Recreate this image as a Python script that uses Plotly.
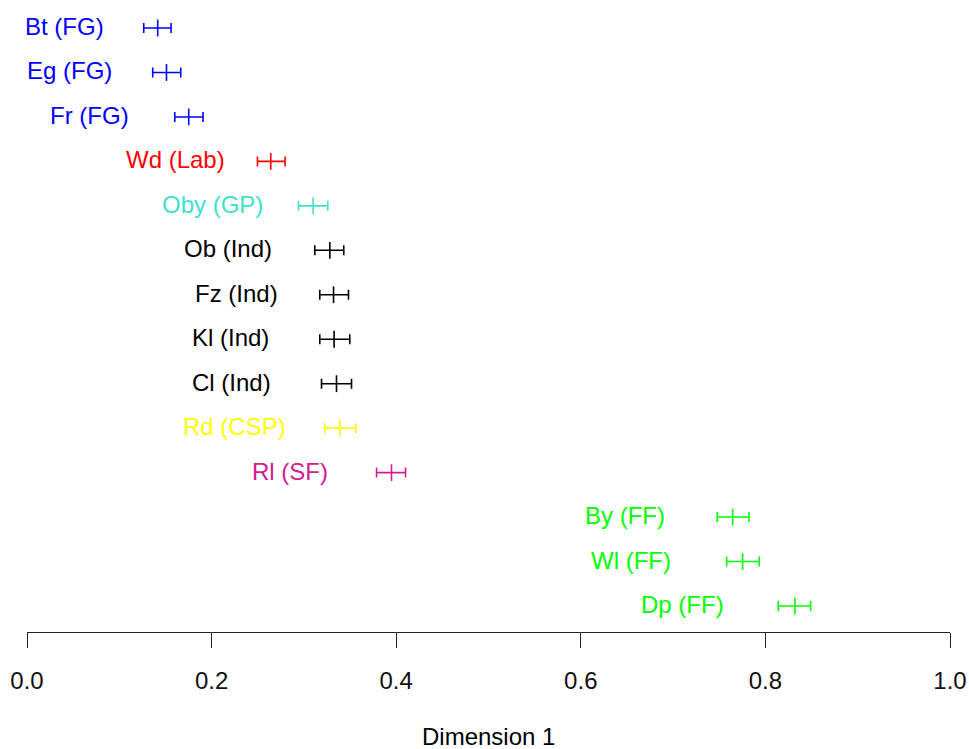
import plotly.graph_objects as go

# Group labels, top to bottom
labels = ["Bt (FG)", "Eg (FG)", "Fr (FG)", "Wd (Lab)", "Oby (GP)", "Ob (Ind)",
          "Fz (Ind)", "Kl (Ind)", "Cl (Ind)", "Rd (CSP)", "Rl (SF)",
          "By (FF)", "Wl (FF)", "Dp (FF)"]

# Estimates on Dimension 1 with lower / upper interval bounds
estimate = [0.1416, 0.1511, 0.1752, 0.2641, 0.3100, 0.3281, 0.3321,
            0.3327, 0.3353, 0.3389, 0.3949, 0.7645, 0.7753, 0.8320]
lower = [0.1265, 0.1362, 0.1601, 0.2497, 0.2941, 0.3118, 0.3172,
         0.3172, 0.3191, 0.3226, 0.3787, 0.7478, 0.7580, 0.8139]
upper = [0.1561, 0.1666, 0.1907, 0.2796, 0.3259, 0.3432, 0.3483,
         0.3497, 0.3516, 0.3562, 0.4101, 0.7822, 0.7933, 0.8490]

# Colour of each group
colors = ["#0000FF", "#0000FF", "#0000FF", "#FF0000", "#40E0D0", "#000000",
          "#000000", "#000000", "#000000", "#FFFF00", "#D02090",
          "#00FF00", "#00FF00", "#00FF00"]

# Right end of each text label (data units on Dimension 1)
label_end = [0.0852, 0.0943, 0.1131, 0.2163, 0.2579, 0.2676, 0.2741,
             0.2648, 0.2665, 0.2832, 0.3283, 0.6932, 0.6994, 0.7571]

x_ticks = [0.0, 0.2, 0.4, 0.6, 0.8, 1.0]
x_tick_text = ["0.0", "0.2", "0.4", "0.6", "0.8", "1.0"]

FONT = "Liberation Sans, Arial, Helvetica, sans-serif"
n = len(labels)
rows = [n - 1 - i for i in range(n)]

fig = go.Figure()
annotations = []
for i in range(n):
    fig.add_trace(go.Scatter(
        x=[estimate[i]], y=[rows[i]],
        mode="markers",
        marker=dict(symbol="line-ns", size=12, color=colors[i],
                    line=dict(color=colors[i], width=1.6)),
        error_x=dict(type="data", symmetric=False,
                     array=[upper[i] - estimate[i]],
                     arrayminus=[estimate[i] - lower[i]],
                     color=colors[i], thickness=1.6, width=5),
        showlegend=False, hoverinfo="skip",
    ))
    annotations.append(dict(
        x=label_end[i], y=rows[i], xref="x", yref="y", yshift=1.5,
        text=labels[i], showarrow=False, xanchor="right", yanchor="middle",
        font=dict(family=FONT, size=24, color=colors[i]),
    ))

# Axis title, placed against the bottom edge of the figure
annotations.append(dict(
    x=0.5, y=-117 / 632, xref="paper", yref="paper", yshift=-2,
    text="Dimension 1", showarrow=False, xanchor="center", yanchor="bottom",
    font=dict(family=FONT, size=24, color="#000000"), borderpad=0,
))

fig.update_layout(
    width=969, height=749,
    margin=dict(l=27, r=19, t=0, b=117, pad=0),
    paper_bgcolor="white", plot_bgcolor="white",
    annotations=annotations,
    xaxis=dict(range=[0, 1], tickmode="array", tickvals=x_ticks,
               ticktext=x_tick_text, ticks="outside", ticklen=15,
               tickwidth=1.2, tickcolor="#222222", showline=True,
               linecolor="#222222", linewidth=1.2, showgrid=False,
               zeroline=False, ticklabelstandoff=12,
               tickfont=dict(family=FONT, size=24, color="#111111")),
    yaxis=dict(range=[-0.585, 13.63], visible=False, showgrid=False,
               zeroline=False),
)

fig.write_html("out.html")
